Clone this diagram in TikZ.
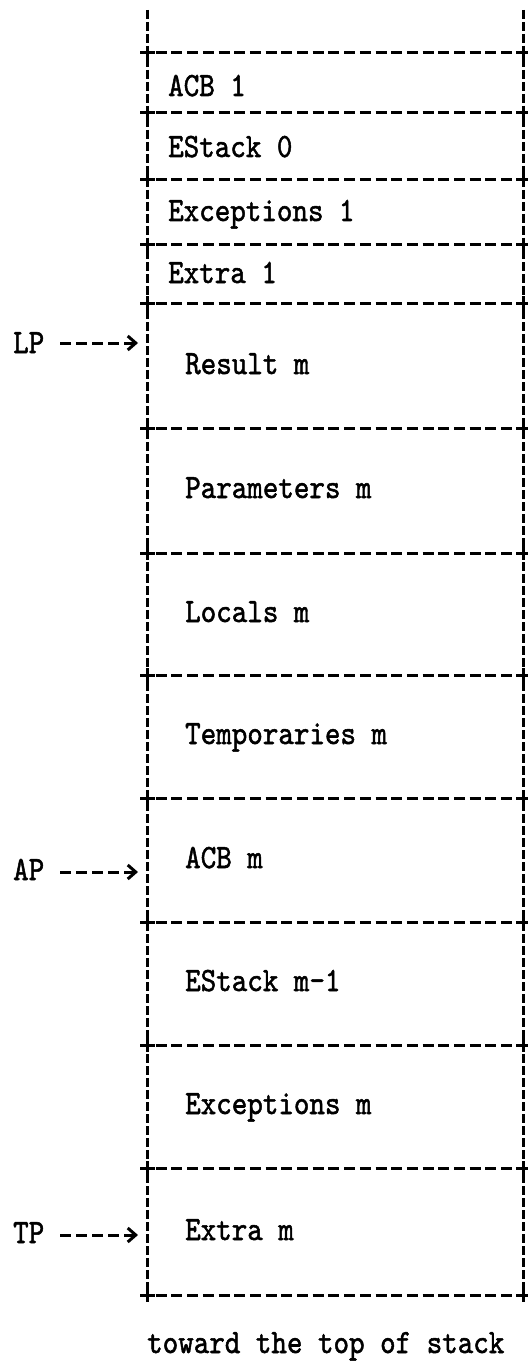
\documentclass[tikz,border=0pt]{standalone}
\usepackage{graphicx}
\usepackage{fontspec}
\setmonofont{lmmono10-regular.otf}[FakeBold=1.6]
\usetikzlibrary{arrows.meta}
\newcommand\tw[1]{\scalebox{.87}[1]{#1}}
\tikzstyle{side}=[line width=3pt,dash pattern=on 9pt off 3pt]
\tikzstyle{rule}=[line width=3pt,dash pattern=on 11pt off 4.7pt]
\tikzstyle{tick}=[line width=3pt]
\tikzstyle{lbl}=[inner sep=0pt,anchor=base west,font=\ttfamily\fontsize{34}{34}\selectfont]
\tikzstyle{ptr}=[line width=3pt,dash pattern=on 11pt off 5pt,shorten <=16pt,-{Straight Barb[length=8pt,width=14pt,line width=3pt]}]

\begin{document}
\begin{tikzpicture}[x=1pt,y=-1pt]
	\useasboundingbox (0,0) rectangle (528,1372);
	% walls of the stack
	\draw[side] (147,10) -- (147,1295);
	\draw[side] (523,10) -- (523,1295);
	\foreach \y in {53,113,180,245,303,428,553,675,798,922,1045,1168,1295} {
		\draw[rule] (140,\y) -- (528,\y);
		\draw[tick] (140,\y) -- (155,\y) (147,\y-7) -- (147,\y+7);
		\draw[tick] (516,\y) -- (528,\y) (523,\y-7) -- (523,\y+7);
	}
	% frame 1
	\node[lbl] (acb1)    at (168,96)  {\tw{ACB 1}};
	\node[lbl] (estack0) at (168,157) {\tw{EStack 0}};
	\node[lbl] (exc1)    at (168,221) {\tw{Exceptions 1}};
	\node[lbl] (extra1)  at (168,283) {\tw{Extra 1}};
	% frame m
	\node[lbl] (result)  at (185,374)  {\tw{Result m}};
	\node[lbl] (params)  at (185,498)  {\tw{Parameters m}};
	\node[lbl] (locals)  at (185,622)  {\tw{Locals m}};
	\node[lbl] (temps)   at (185,744)  {\tw{Temporaries m}};
	\node[lbl] (acbm)    at (185,868)  {\tw{ACB m}};
	\node[lbl] (estackm) at (185,991)  {\tw{EStack m-1}};
	\node[lbl] (excm)    at (185,1114) {\tw{Exceptions m}};
	\node[lbl] (extram)  at (185,1240) {\tw{Extra m}};
	\node[lbl] (toward)  at (147,1353) {\tw{toward the top of stack}};
	% pointers
	\node[lbl] (LP) at (13,353)  {\tw{LP}};
	\node[lbl] (AP) at (13,880)  {\tw{AP}};
	\node[lbl] (TP) at (13,1243) {\tw{TP}};
	\coordinate (lp) at (138,343);
	\coordinate (ap) at (138,872);
	\coordinate (tp) at (138,1235);
	\draw[ptr] (lp -| LP.east) -- (lp);
	\draw[ptr] (ap -| AP.east) -- (ap);
	\draw[ptr] (tp -| TP.east) -- (tp);
\end{tikzpicture}
\end{document}
